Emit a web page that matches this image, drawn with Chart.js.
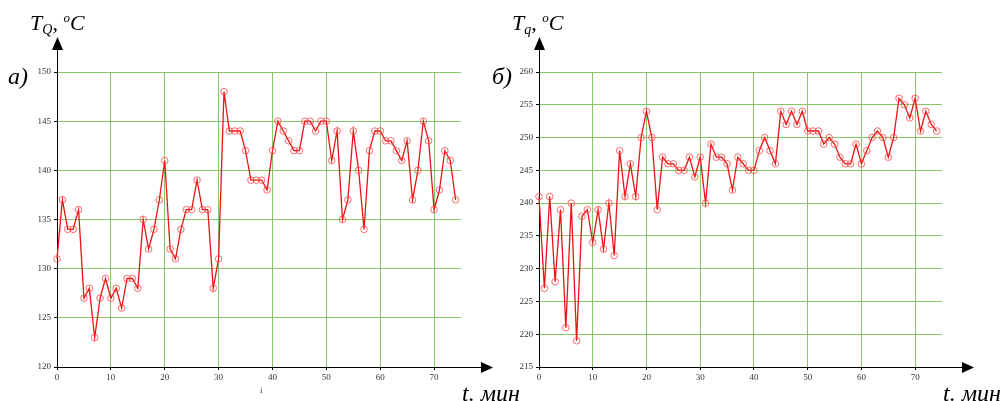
<!DOCTYPE html>
<html>
<head>
<meta charset="utf-8">
<script src="https://cdn.jsdelivr.net/npm/chart.js@4.4.1/dist/chart.umd.min.js"></script>
<style>
  html, body { margin:0; padding:0; background:#fff; }
  body { width:1006px; height:401px; position:relative; overflow:hidden; }
  canvas { position:absolute; top:0; }
  .t { position:absolute; font-family:"Liberation Serif", serif; font-style:italic; color:#000; line-height:1; white-space:nowrap; }
  .big { font-size:22px; }
  .sub { font-size:14px; position:relative; top:4px; }
  .sup { font-size:13px; position:relative; top:-8px; }
  .small { position:absolute; font-family:"Liberation Serif", serif; font-size:9px; color:#333; line-height:1; }
</style>
</head>
<body>
<canvas id="c1" width="503" height="401" style="left:0"></canvas>
<canvas id="c2" width="503" height="401" style="left:503px"></canvas>

<div class="t big" style="left:30px; top:12px;">T<span class="sub">Q</span>, <span class="sup">o</span>C</div>
<div class="t" style="left:8px; top:64px; font-size:24px;">a)</div>
<div class="t" style="left:462px; top:381px; font-size:24px;">t. мин</div>
<div class="small" style="left:260px; top:386px;">i</div>

<div class="t big" style="left:512px; top:12px;">T<span class="sub">q</span>, <span class="sup">o</span>C</div>
<div class="t" style="left:492px; top:64px; font-size:24px;">б)</div>
<div class="t" style="left:943px; top:381px; font-size:24px;">t. мин</div>

<script>
// ---- data ----
const minutes = [0,1,2,3,4,5,6,7,8,9,10,11,12,13,14,15,16,17,18,19,20,21,22,23,24,25,26,27,28,29,30,31,32,33,34,35,36,37,38,39,40,41,42,43,44,45,46,47,48,49,50,51,52,53,54,55,56,57,58,59,60,61,62,63,64,65,66,67,68,69,70,71,72,73,74];
const tempQ = [131,137,134,134,136,127,128,123,127,129,
               127,128,126,129,129,128,135,132,134,137,
               141,132,131,134,136,136,139,136,136,128,
               131,148,144,144,144,142,139,139,139,138,
               142,145,144,143,142,142,145,145,144,145,
               145,141,144,135,137,144,140,134,142,144,
               144,143,143,142,141,143,137,140,145,143,
               136,138,142,141,137];
const tempq = [241,227,241,228,239,221,240,219,238,239,
               234,239,233,240,232,248,241,246,241,250,
               254,250,239,247,246,246,245,245,247,244,
               247,240,249,247,247,246,242,247,246,245,
               245,248,250,248,246,254,252,254,252,254,
               251,251,251,249,250,249,247,246,246,249,
               246,248,250,251,250,247,250,256,255,253,
               256,251,254,252,251];
const xTickStep = 10, xMin = 0, xMax = 75;
const yQ = {min:120, max:150, step:5};
const yq = {min:215, max:260, step:5};

const arrowPlugin = {
  id:'arrows',
  afterDraw(chart){
    const {ctx, chartArea:a} = chart;
    ctx.save();
    ctx.strokeStyle = '#000'; ctx.fillStyle = '#000'; ctx.lineWidth = 1;
    const lx = Math.round(a.left) + 0.5;
    const by = Math.round(a.bottom) + 0.5;
    ctx.beginPath(); ctx.moveTo(lx, a.top); ctx.lineTo(lx, 46); ctx.stroke();
    ctx.beginPath(); ctx.moveTo(lx, 37); ctx.lineTo(lx-5.5, 50); ctx.lineTo(lx+5.5, 50); ctx.closePath(); ctx.fill();
    const tip = a.right + 32;
    ctx.beginPath(); ctx.moveTo(a.right, by); ctx.lineTo(tip-8, by); ctx.stroke();
    ctx.beginPath(); ctx.moveTo(tip, by); ctx.lineTo(tip-12, by-5.5); ctx.lineTo(tip-12, by+5.5); ctx.closePath(); ctx.fill();
    ctx.restore();
  }
};

function makeChart(id, values, yr, leftW, rightPad){
  const tickFont = {family:'Liberation Serif', size:9};
  return new Chart(document.getElementById(id), {
    type:'line',
    data:{ datasets:[{
      data: minutes.map((m,i)=>({x:m, y:values[i]})),
      borderColor:'rgb(235,20,20)', borderWidth:1.3,
      pointRadius:3.3, pointBorderWidth:1,
      pointBorderColor:'rgba(255,60,60,0.75)', pointBackgroundColor:'rgba(0,0,0,0)',
      tension:0, clip:false
    }]},
    options:{
      responsive:false, animation:false, devicePixelRatio:1,
      plugins:{legend:{display:false}, tooltip:{enabled:false}},
      layout:{padding:{top:72, right:rightPad, left:0, bottom:0}},
      scales:{
        x:{ type:'linear', min:xMin, max:xMax,
            afterBuildTicks(s){ s.ticks = s.ticks.filter(t => t.value % xTickStep === 0); },
            afterFit(s){ s.height = 34; },
            ticks:{ stepSize:xTickStep, font:tickFont, color:'#333', padding:2, maxRotation:0, autoSkip:false },
            grid:{ color:'#86c96a', lineWidth:1, tickLength:3, tickColor:'#000' },
            border:{ color:'#000', width:1 } },
        y:{ min:yr.min, max:yr.max,
            afterFit(s){ s.width = leftW; },
            ticks:{ stepSize:yr.step, font:tickFont, color:'#333', padding:3 },
            grid:{ color:'#86c96a', lineWidth:1, tickLength:3, tickColor:'#000' },
            border:{ color:'#000', width:1 } }
      }
    },
    plugins:[arrowPlugin]
  });
}
makeChart('c1', tempQ, yQ, 57, 42);
makeChart('c2', tempq, yq, 36, 64);
</script>
</body>
</html>
